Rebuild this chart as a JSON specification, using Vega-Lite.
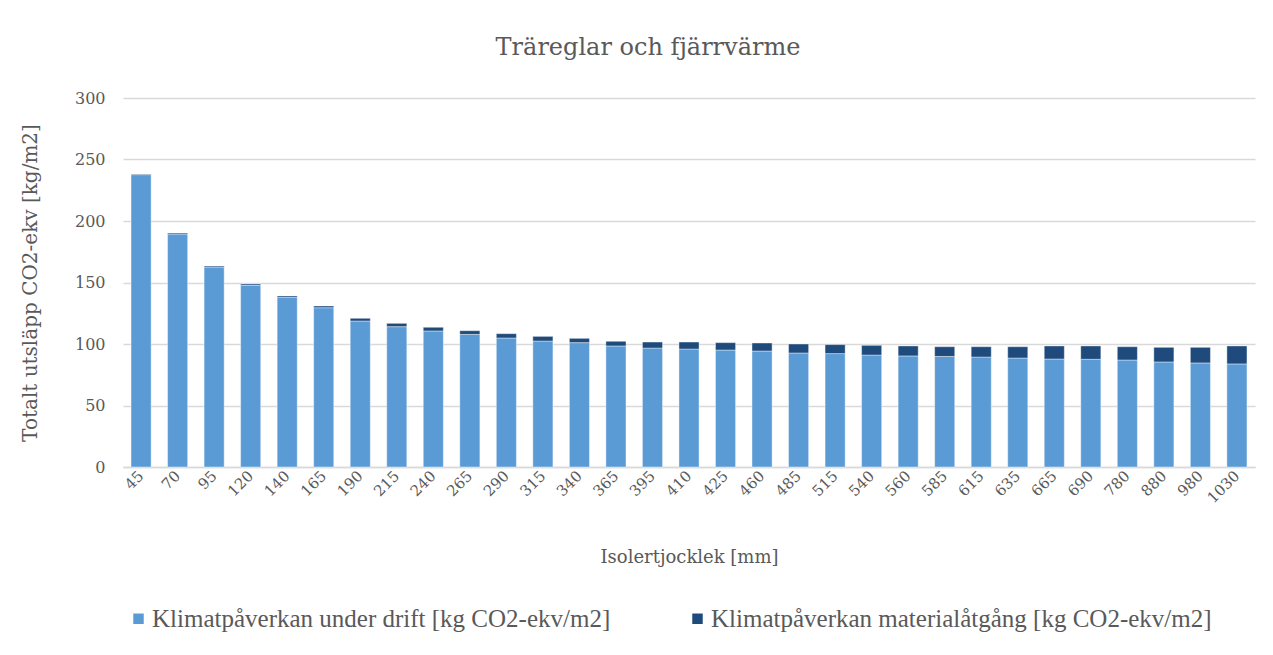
{
  "$schema": "https://vega.github.io/schema/vega-lite/v6.json",
  "width": 1132,
  "height": 369,
  "autosize": "none",
  "padding": {"left": 123, "top": 98, "right": 18, "bottom": 188},
  "background": "white",
  "title": {"text": "Träreglar och fjärrvärme", "font": "DejaVu Serif", "fontSize": 24, "fontWeight": "normal", "color": "#595959", "offset": 30, "anchor": "middle", "dx": -41},
  "data": {"values": [
    {"t": "45", "s": "Klimatpåverkan under drift [kg CO2-ekv/m2]", "v": 237.7},
    {"t": "45", "s": "Klimatpåverkan materialåtgång [kg CO2-ekv/m2]", "v": 0.5},
    {"t": "70", "s": "Klimatpåverkan under drift [kg CO2-ekv/m2]", "v": 189.4},
    {"t": "70", "s": "Klimatpåverkan materialåtgång [kg CO2-ekv/m2]", "v": 0.8},
    {"t": "95", "s": "Klimatpåverkan under drift [kg CO2-ekv/m2]", "v": 162.6},
    {"t": "95", "s": "Klimatpåverkan materialåtgång [kg CO2-ekv/m2]", "v": 0.8},
    {"t": "120", "s": "Klimatpåverkan under drift [kg CO2-ekv/m2]", "v": 147.7},
    {"t": "120", "s": "Klimatpåverkan materialåtgång [kg CO2-ekv/m2]", "v": 1.1},
    {"t": "140", "s": "Klimatpåverkan under drift [kg CO2-ekv/m2]", "v": 137.8},
    {"t": "140", "s": "Klimatpåverkan materialåtgång [kg CO2-ekv/m2]", "v": 1.2},
    {"t": "165", "s": "Klimatpåverkan under drift [kg CO2-ekv/m2]", "v": 129.5},
    {"t": "165", "s": "Klimatpåverkan materialåtgång [kg CO2-ekv/m2]", "v": 1.4},
    {"t": "190", "s": "Klimatpåverkan under drift [kg CO2-ekv/m2]", "v": 118.7},
    {"t": "190", "s": "Klimatpåverkan materialåtgång [kg CO2-ekv/m2]", "v": 2.2},
    {"t": "215", "s": "Klimatpåverkan under drift [kg CO2-ekv/m2]", "v": 114.1},
    {"t": "215", "s": "Klimatpåverkan materialåtgång [kg CO2-ekv/m2]", "v": 2.7},
    {"t": "240", "s": "Klimatpåverkan under drift [kg CO2-ekv/m2]", "v": 110.6},
    {"t": "240", "s": "Klimatpåverkan materialåtgång [kg CO2-ekv/m2]", "v": 3.0},
    {"t": "265", "s": "Klimatpåverkan under drift [kg CO2-ekv/m2]", "v": 107.8},
    {"t": "265", "s": "Klimatpåverkan materialåtgång [kg CO2-ekv/m2]", "v": 3.0},
    {"t": "290", "s": "Klimatpåverkan under drift [kg CO2-ekv/m2]", "v": 104.9},
    {"t": "290", "s": "Klimatpåverkan materialåtgång [kg CO2-ekv/m2]", "v": 3.5},
    {"t": "315", "s": "Klimatpåverkan under drift [kg CO2-ekv/m2]", "v": 102.4},
    {"t": "315", "s": "Klimatpåverkan materialåtgång [kg CO2-ekv/m2]", "v": 3.8},
    {"t": "340", "s": "Klimatpåverkan under drift [kg CO2-ekv/m2]", "v": 101.1},
    {"t": "340", "s": "Klimatpåverkan materialåtgång [kg CO2-ekv/m2]", "v": 3.5},
    {"t": "365", "s": "Klimatpåverkan under drift [kg CO2-ekv/m2]", "v": 98.4},
    {"t": "365", "s": "Klimatpåverkan materialåtgång [kg CO2-ekv/m2]", "v": 3.8},
    {"t": "395", "s": "Klimatpåverkan under drift [kg CO2-ekv/m2]", "v": 96.7},
    {"t": "395", "s": "Klimatpåverkan materialåtgång [kg CO2-ekv/m2]", "v": 4.9},
    {"t": "410", "s": "Klimatpåverkan under drift [kg CO2-ekv/m2]", "v": 95.9},
    {"t": "410", "s": "Klimatpåverkan materialåtgång [kg CO2-ekv/m2]", "v": 5.7},
    {"t": "425", "s": "Klimatpåverkan under drift [kg CO2-ekv/m2]", "v": 95.1},
    {"t": "425", "s": "Klimatpåverkan materialåtgång [kg CO2-ekv/m2]", "v": 6.0},
    {"t": "460", "s": "Klimatpåverkan under drift [kg CO2-ekv/m2]", "v": 94.3},
    {"t": "460", "s": "Klimatpåverkan materialåtgång [kg CO2-ekv/m2]", "v": 6.5},
    {"t": "485", "s": "Klimatpåverkan under drift [kg CO2-ekv/m2]", "v": 92.7},
    {"t": "485", "s": "Klimatpåverkan materialåtgång [kg CO2-ekv/m2]", "v": 7.3},
    {"t": "515", "s": "Klimatpåverkan under drift [kg CO2-ekv/m2]", "v": 92.2},
    {"t": "515", "s": "Klimatpåverkan materialåtgång [kg CO2-ekv/m2]", "v": 7.3},
    {"t": "540", "s": "Klimatpåverkan under drift [kg CO2-ekv/m2]", "v": 91.0},
    {"t": "540", "s": "Klimatpåverkan materialåtgång [kg CO2-ekv/m2]", "v": 7.9},
    {"t": "560", "s": "Klimatpåverkan under drift [kg CO2-ekv/m2]", "v": 90.3},
    {"t": "560", "s": "Klimatpåverkan materialåtgång [kg CO2-ekv/m2]", "v": 8.1},
    {"t": "585", "s": "Klimatpåverkan under drift [kg CO2-ekv/m2]", "v": 89.9},
    {"t": "585", "s": "Klimatpåverkan materialåtgång [kg CO2-ekv/m2]", "v": 7.9},
    {"t": "615", "s": "Klimatpåverkan under drift [kg CO2-ekv/m2]", "v": 89.4},
    {"t": "615", "s": "Klimatpåverkan materialåtgång [kg CO2-ekv/m2]", "v": 8.4},
    {"t": "635", "s": "Klimatpåverkan under drift [kg CO2-ekv/m2]", "v": 88.6},
    {"t": "635", "s": "Klimatpåverkan materialåtgång [kg CO2-ekv/m2]", "v": 9.2},
    {"t": "665", "s": "Klimatpåverkan under drift [kg CO2-ekv/m2]", "v": 87.8},
    {"t": "665", "s": "Klimatpåverkan materialåtgång [kg CO2-ekv/m2]", "v": 10.6},
    {"t": "690", "s": "Klimatpåverkan under drift [kg CO2-ekv/m2]", "v": 87.6},
    {"t": "690", "s": "Klimatpåverkan materialåtgång [kg CO2-ekv/m2]", "v": 10.8},
    {"t": "780", "s": "Klimatpåverkan under drift [kg CO2-ekv/m2]", "v": 87.0},
    {"t": "780", "s": "Klimatpåverkan materialåtgång [kg CO2-ekv/m2]", "v": 10.8},
    {"t": "880", "s": "Klimatpåverkan under drift [kg CO2-ekv/m2]", "v": 85.4},
    {"t": "880", "s": "Klimatpåverkan materialåtgång [kg CO2-ekv/m2]", "v": 11.9},
    {"t": "980", "s": "Klimatpåverkan under drift [kg CO2-ekv/m2]", "v": 84.6},
    {"t": "980", "s": "Klimatpåverkan materialåtgång [kg CO2-ekv/m2]", "v": 12.7},
    {"t": "1030", "s": "Klimatpåverkan under drift [kg CO2-ekv/m2]", "v": 83.8},
    {"t": "1030", "s": "Klimatpåverkan materialåtgång [kg CO2-ekv/m2]", "v": 14.6}
  ]},
  "transform": [
    {"calculate": "datum.s === 'Klimatpåverkan under drift [kg CO2-ekv/m2]' ? 0 : 1", "as": "ord"}
  ],
  "mark": {"type": "bar", "stroke": "white", "strokeOpacity": 0.5, "strokeWidth": 0.8},
  "encoding": {
    "x": {
      "field": "t", "type": "ordinal", "sort": null,
      "scale": {"paddingInner": 0.45, "paddingOuter": 0.22},
      "axis": {
        "title": "Isolertjocklek [mm]",
        "titleFont": "DejaVu Serif", "titleFontSize": 18, "titleFontWeight": "normal", "titleColor": "#595959", "titlePadding": 43,
        "labelFont": "DejaVu Serif", "labelFontSize": 15, "labelColor": "#595959",
        "labelAngle": -45, "labelAlign": "right", "labelBaseline": "middle", "labelPadding": 6,
        "ticks": false, "domainColor": "#d9d9d9", "domainWidth": 1.5, "grid": false
      }
    },
    "y": {
      "field": "v", "type": "quantitative", "stack": "zero",
      "scale": {"domain": [0, 300], "nice": false},
      "axis": {
        "title": "Totalt utsläpp CO2-ekv [kg/m2]",
        "titleFont": "DejaVu Serif", "titleFontSize": 20, "titleFontWeight": "normal", "titleColor": "#595959", "titlePadding": 34,
        "labelFont": "DejaVu Serif", "labelFontSize": 16, "labelColor": "#595959", "labelPadding": 18,
        "values": [0, 50, 100, 150, 200, 250, 300],
        "ticks": false, "domain": false,
        "grid": true, "gridColor": "#d9d9d9", "gridWidth": 1.5
      }
    },
    "color": {
      "field": "s", "type": "nominal",
      "scale": {
        "domain": ["Klimatpåverkan under drift [kg CO2-ekv/m2]", "Klimatpåverkan materialåtgång [kg CO2-ekv/m2]"],
        "range": ["#5b9bd5", "#1f4a7c"]
      },
      "legend": {
        "title": null, "orient": "none", "direction": "horizontal",
        "legendX": 3, "legendY": 508,
        "symbolType": "square", "symbolSize": 110, "symbolStrokeWidth": 0,
        "labelFont": "Liberation Serif", "labelFontSize": 25, "labelColor": "#595959",
        "labelLimit": 700, "columnPadding": 74, "labelOffset": 1
      }
    },
    "order": {"field": "ord", "type": "quantitative"}
  },
  "config": {"view": {"stroke": null}}
}
